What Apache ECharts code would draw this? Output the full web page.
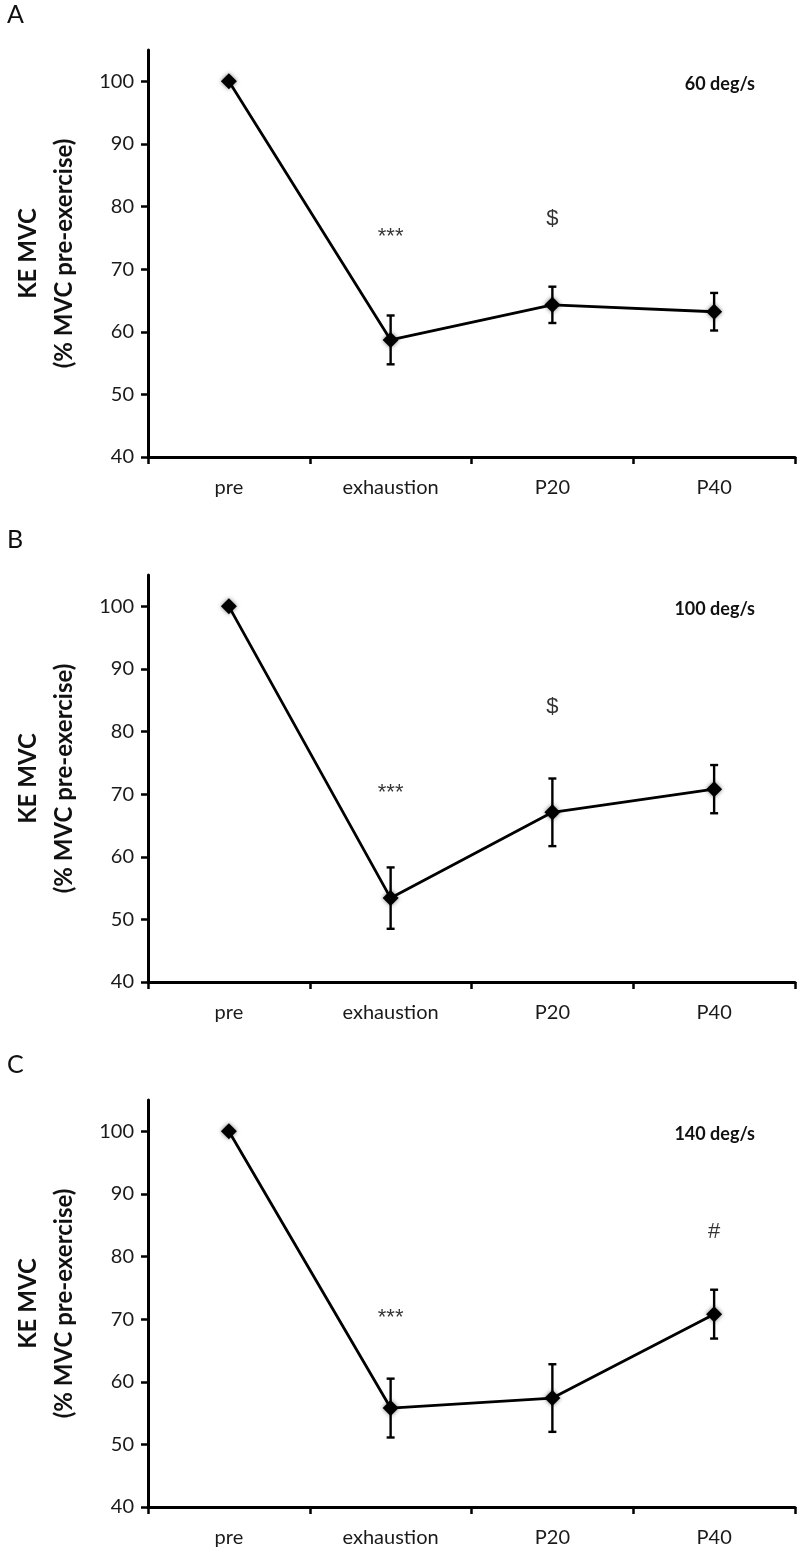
<!DOCTYPE html>
<html><head><meta charset="utf-8">
<script src="https://cdn.jsdelivr.net/npm/echarts@6/dist/echarts.min.js"></script>
<style>html,body{margin:0;padding:0;background:#fff}#c{width:800px;height:1557px}</style>
</head><body><div id="c"></div>
<script>
const categories = ['pre', 'exhaustion', 'P20', 'P40'];
const yTicks = [40, 50, 60, 70, 80, 90, 100];
const panelLetters = ['A', 'B', 'C'];
const speedLabels = ['60 deg/s', '100 deg/s', '140 deg/s'];
const meanA = [100, 58.7, 64.3, 63.2];
const errA  = [0, 3.9, 2.9, 3.0];
const meanB = [100, 53.4, 67.1, 70.8];
const errB  = [0, 4.9, 5.4, 3.85];
const meanC = [100, 55.8, 57.4, 70.8];
const errC  = [0, 4.7, 5.4, 3.9];
const notesA = [['exhaustion', 75.1, '***'], ['P20', 78.0, '$']];
const notesB = [['exhaustion', 70.2, '***'], ['P20', 83.9, '$']];
const notesC = [['exhaustion', 70.2, '***'], ['P40', 84.0, '#']];

const means = [meanA, meanB, meanC];
const errs = [errA, errB, errC];
const notes = [notesA, notesB, notesC];
const tops = [50, 575, 1100];
const H = 407;
const FONT = 'Lato, "Open Sans", sans-serif';

const grid = [], xAxis = [], yAxis = [], series = [], graphic = [];
for (let i = 0; i < 3; i++) {
  grid.push({ left: 148, right: 5, top: tops[i], height: H });
  xAxis.push({
    type: 'category', gridIndex: i, data: categories, boundaryGap: true,
    axisLine: { lineStyle: { color: '#000', width: 3 } },
    axisTick: { show: true, alignWithLabel: false, length: 7, inside: false, lineStyle: { color: '#000', width: 2.5 } },
    axisLabel: { color: '#1a1a1a', fontSize: 20, fontFamily: FONT, margin: 21 },
    splitLine: { show: false }
  });
  yAxis.push({
    type: 'value', gridIndex: i, min: 40, max: 105, interval: 10,
    name: 'KE MVC\n(% MVC pre-exercise)', nameLocation: 'middle', nameRotate: 90, nameGap: 66,
    nameTextStyle: { color: '#111', fontSize: 24, fontWeight: 'bold', fontFamily: FONT, lineHeight: 36 },
    axisLine: { show: true, lineStyle: { color: '#000', width: 3 } },
    axisTick: { show: true, length: 7, customValues: yTicks, lineStyle: { color: '#000', width: 2.5 } },
    axisLabel: { color: '#1a1a1a', fontSize: 20, fontFamily: FONT, margin: 14, customValues: yTicks },
    splitLine: { show: false }
  });
  const m = means[i], e = errs[i];
  series.push({
    type: 'custom', xAxisIndex: i, yAxisIndex: i, z: 2,
    data: categories.map((c, k) => [k, m[k] - e[k], m[k] + e[k]]).filter(d => d[2] - d[1] > 0),
    renderItem: function (params, api) {
      const lo = api.coord([api.value(0), api.value(1)]);
      const hi = api.coord([api.value(0), api.value(2)]);
      const w = 4;
      const st = { stroke: '#000', lineWidth: 2.4 };
      return { type: 'group', children: [
        { type: 'line', shape: { x1: lo[0], y1: lo[1], x2: hi[0], y2: hi[1] }, style: st },
        { type: 'line', shape: { x1: lo[0] - w, y1: lo[1], x2: lo[0] + w, y2: lo[1] }, style: st },
        { type: 'line', shape: { x1: hi[0] - w, y1: hi[1], x2: hi[0] + w, y2: hi[1] }, style: st }
      ]};
    }
  });
  series.push({
    type: 'line', xAxisIndex: i, yAxisIndex: i, z: 3, data: m,
    symbol: 'diamond', symbolSize: 16,
    lineStyle: { color: '#000', width: 2.8 },
    itemStyle: { color: '#000', shadowBlur: 4, shadowColor: 'rgba(0,0,0,0.5)' },
    animation: false
  });
  series.push({
    type: 'scatter', xAxisIndex: i, yAxisIndex: i, z: 4, symbolSize: 0,
    data: notes[i].map(n => ({ value: [n[0], n[1]], label: { formatter: n[2] } })),
    label: { show: true, position: 'inside', color: '#000', fontSize: 22, fontFamily: '"Liberation Sans", Arial, sans-serif' },
    silent: true
  });
  graphic.push({ type: 'text', left: 7, top: tops[i] - 48, style: { text: panelLetters[i], fontSize: 25, fill: '#111', fontFamily: FONT } });
  graphic.push({ type: 'text', right: 45, top: tops[i] + 25, style: { text: speedLabels[i], fontSize: 18, fontWeight: 'bold', fill: '#111', fontFamily: FONT } });
}

const chart = echarts.init(document.getElementById('c'), null, { renderer: 'canvas' });
chart.setOption({ animation: false, backgroundColor: '#fff', grid, xAxis, yAxis, series, graphic });
</script></body></html>
